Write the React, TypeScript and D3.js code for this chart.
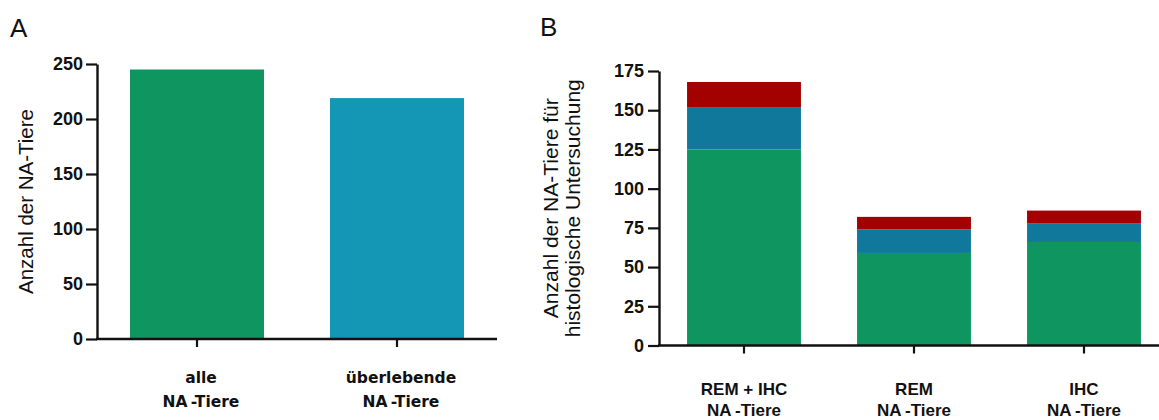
import React, { useEffect, useRef } from "react";
import * as d3 from "d3";

// Panel A: all animals vs. surviving animals
const groupsA = ["alle", "überlebende"];
const labelsA = [["alle", "NA\u2009-Tiere"], ["überlebende", "NA\u2009-Tiere"]];
const valuesA = [245, 219];
const colorsA = ["#0f9660", "#1397b4"];
const ticksA = [0, 50, 100, 150, 200, 250];

// Panel B: stacked counts for histological examination
const groupsB = ["REM + IHC", "REM", "IHC"];
const labelsB = [["REM + IHC", "NA\u2009-Tiere"], ["REM", "NA\u2009-Tiere"], ["IHC", "NA\u2009-Tiere"]];
const seriesKeys = ["s1", "s2", "s3"];
const seriesS1 = [125, 59, 66];
const seriesS2 = [27, 15, 12];
const seriesS3 = [16, 8, 8];
const colorsB = ["#0f9660", "#10789a", "#a30000"];
const ticksB = [0, 25, 50, 75, 100, 125, 150, 175];

const W = 1159;
const H = 420;
const tickFont = "'Liberation Sans', Arial, sans-serif";

export default function App() {
  const axisARef = useRef<SVGGElement>(null);
  const axisBRef = useRef<SVGGElement>(null);

  const xA = d3.scaleBand<string>().domain(groupsA).range([97, 497]).paddingInner(0.33).paddingOuter(0.165);
  const yA = d3.scaleLinear().domain([0, 250]).range([339, 64]);

  const xB = d3.scaleBand<string>().domain(groupsB).range([659, 1169]).paddingInner(0.33).paddingOuter(0.165);
  const yB = d3.scaleLinear().domain([0, 175]).range([345.5, 71]);

  const tableB = groupsB.map((g, i) => ({ group: g, s1: seriesS1[i], s2: seriesS2[i], s3: seriesS3[i] }));
  const stacked = d3.stack<any>().keys(seriesKeys)(tableB);

  useEffect(() => {
    const style = (sel: d3.Selection<SVGGElement, unknown, null, undefined>) => {
      sel.select(".domain").attr("stroke", "#111").attr("stroke-width", 2.4);
      sel.selectAll(".tick line").attr("stroke", "#111").attr("stroke-width", 2.2);
      sel
        .selectAll(".tick text")
        .attr("fill", "#111")
        .style("font-family", tickFont)
        .style("font-weight", "bold")
        .style("font-size", "18px");
    };
    if (axisARef.current) {
      const g = d3.select(axisARef.current);
      g.call(d3.axisLeft(yA).tickValues(ticksA).tickSize(11).tickPadding(3).tickSizeOuter(0));
      style(g);
    }
    if (axisBRef.current) {
      const g = d3.select(axisBRef.current);
      g.call(d3.axisLeft(yB).tickValues(ticksB).tickSize(11).tickPadding(4).tickSizeOuter(0));
      style(g);
    }
  }, []);

  return (
    <svg
      width={W}
      height={H}
      style={{ position: "absolute", left: 0, top: 0, background: "#fff" }}
    >
      {/* Panel letters */}
      <text x={10} y={37} fontFamily={tickFont} fontSize={26} fill="#111">A</text>
      <text x={540} y={36} fontFamily={tickFont} fontSize={26} fill="#111">B</text>

      {/* Panel A bars */}
      {groupsA.map((g, i) => (
        <rect
          key={g}
          x={xA(g)}
          y={yA(valuesA[i])}
          width={xA.bandwidth()}
          height={yA(0) - yA(valuesA[i])}
          fill={colorsA[i]}
        />
      ))}
      <g ref={axisARef} transform="translate(97,0)" />
      <line x1={96} x2={497} y1={yA(0)} y2={yA(0)} stroke="#111" strokeWidth={2.4} />
      {groupsA.map((g, i) => {
        const cx = (xA(g) as number) + xA.bandwidth() / 2;
        return (
          <g key={g}>
            <line x1={cx} x2={cx} y1={yA(0)} y2={yA(0) + 8} stroke="#111" strokeWidth={2.2} />
            <text
              textAnchor="middle"
              fontFamily="'DejaVu Sans', Verdana, sans-serif"
              fontWeight="bold"
              fontSize={15.5}
              fill="#111"
            >
              <tspan x={cx + 4} y={383}>{labelsA[i][0]}</tspan>
              <tspan x={cx + 4} y={407}>{labelsA[i][1]}</tspan>
            </text>
          </g>
        );
      })}
      <text
        transform={`translate(33,${(yA(0) + yA(250)) / 2}) rotate(-90)`}
        textAnchor="middle"
        fontFamily={tickFont}
        fontSize={20.5}
        fill="#111"
      >
        Anzahl der NA-Tiere
      </text>

      {/* Panel B stacked bars */}
      {stacked.map((layer, li) => (
        <g key={layer.key} fill={colorsB[li]}>
          {layer.map((d: any) => (
            <rect
              key={d.data.group}
              x={xB(d.data.group)}
              y={yB(d[1])}
              width={xB.bandwidth()}
              height={yB(d[0]) - yB(d[1])}
            />
          ))}
        </g>
      ))}
      <g ref={axisBRef} transform="translate(659,0)" />
      <line x1={658} x2={W} y1={yB(0)} y2={yB(0)} stroke="#111" strokeWidth={2.4} />
      {groupsB.map((g, i) => {
        const cx = (xB(g) as number) + xB.bandwidth() / 2;
        return (
          <g key={g}>
            <line x1={cx} x2={cx} y1={yB(0)} y2={yB(0) + 8} stroke="#111" strokeWidth={2.2} />
            <text textAnchor="middle" fontFamily={tickFont} fontWeight="bold" fontSize={17} fill="#111">
              <tspan x={cx} y={395}>{labelsB[i][0]}</tspan>
              <tspan x={cx} y={416}>{labelsB[i][1]}</tspan>
            </text>
          </g>
        );
      })}
      <text
        transform={`translate(558,${(yB(0) + yB(175)) / 2}) rotate(-90)`}
        textAnchor="middle"
        fontFamily={tickFont}
        fontSize={21}
        fill="#111"
      >
        Anzahl der NA-Tiere für
      </text>
      <text
        transform={`translate(580,${(yB(0) + yB(175)) / 2}) rotate(-90)`}
        textAnchor="middle"
        fontFamily={tickFont}
        fontSize={21}
        fill="#111"
      >
        histologische Untersuchung
      </text>
    </svg>
  );
}
